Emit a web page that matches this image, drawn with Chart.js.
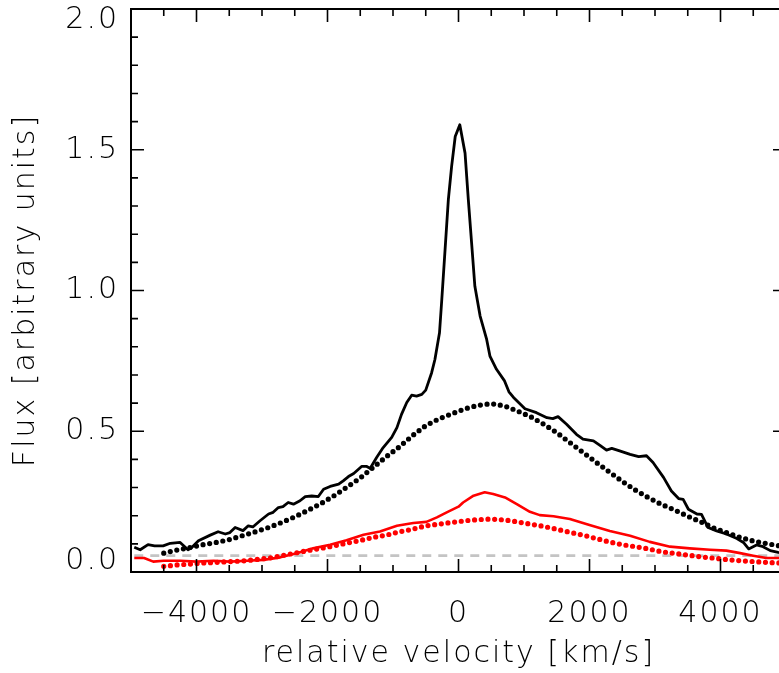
<!DOCTYPE html>
<html>
<head>
<meta charset="utf-8">
<script src="https://cdn.jsdelivr.net/npm/chart.js@4"></script>
<style>
  html, body { margin: 0; padding: 0; background: #fff; overflow: hidden; }
  #wrap { width: 800px; height: 673px; }
</style>
</head>
<body>
<div id="wrap"><canvas id="c" width="800" height="673"></canvas></div>
<script>
// ---------------- data ----------------
const obsTotalVel = [-4950,-4860,-4740,-4640,-4510,-4400,-4250,-4130,-4080,-3970,-3790,-3670,-3560,-3490,-3410,-3290,-3210,-3140,-3030,-2900,-2830,-2750,-2680,-2600,-2520,-2420,-2340,-2240,-2140,-2060,-1960,-1830,-1760,-1680,-1600,-1480,-1400,-1350,-1250,-1150,-1020,-940,-870,-790,-715,-640,-560,-500,-410,-360,-290,-255,-205,-155,-105,-50,20,100,150,200,250,330,430,480,580,700,770,840,1015,1190,1350,1440,1520,1650,1800,1900,2060,2160,2260,2340,2460,2620,2750,2870,2970,3130,3250,3360,3430,3510,3640,3710,3810,3940,4090,4250,4350,4430,4550,4650,4760,4880,5000];
const obsTotalFlux = [0.088,0.079,0.097,0.093,0.093,0.102,0.105,0.079,0.085,0.111,0.131,0.143,0.135,0.140,0.158,0.147,0.164,0.160,0.182,0.206,0.212,0.229,0.232,0.247,0.241,0.253,0.268,0.270,0.268,0.294,0.304,0.312,0.324,0.339,0.350,0.375,0.375,0.368,0.407,0.442,0.478,0.513,0.560,0.602,0.628,0.625,0.631,0.646,0.708,0.755,0.850,0.968,1.145,1.323,1.441,1.547,1.589,1.488,1.323,1.169,1.015,0.909,0.826,0.767,0.720,0.680,0.640,0.620,0.580,0.566,0.548,0.545,0.552,0.525,0.489,0.472,0.466,0.450,0.433,0.439,0.430,0.418,0.410,0.413,0.389,0.336,0.288,0.261,0.258,0.223,0.206,0.205,0.158,0.146,0.135,0.119,0.105,0.082,0.096,0.090,0.076,0.070,0.066];

const fitTotalVel = [-4500,-4300,-4100,-3900,-3700,-3500,-3300,-3100,-2900,-2700,-2500,-2300,-2100,-1900,-1700,-1500,-1300,-1100,-900,-700,-500,-300,-100,100,300,500,700,900,1100,1300,1500,1700,1900,2100,2300,2500,2700,2900,3100,3300,3500,3700,3900,4100,4300,4500,4700,4900,5000];
const fitTotalFlux = [0.067,0.078,0.087,0.097,0.105,0.115,0.129,0.143,0.158,0.176,0.196,0.219,0.243,0.271,0.302,0.334,0.372,0.410,0.445,0.485,0.520,0.544,0.562,0.580,0.592,0.598,0.590,0.572,0.552,0.525,0.495,0.460,0.425,0.390,0.356,0.322,0.291,0.264,0.240,0.220,0.198,0.178,0.156,0.139,0.123,0.110,0.101,0.093,0.090];

const obsPolVel = [-4950,-4800,-4660,-4500,-4250,-4000,-3740,-3490,-3230,-2980,-2720,-2470,-2220,-1960,-1710,-1450,-1200,-940,-690,-490,-330,-180,0,70,230,400,530,710,890,1090,1240,1450,1700,2000,2310,2620,2920,3230,3530,3840,4090,4300,4500,4700,4880,5000];
const obsPolFlux = [0.050,0.050,0.037,0.040,0.040,0.037,0.040,0.037,0.040,0.043,0.052,0.067,0.084,0.097,0.113,0.132,0.144,0.164,0.174,0.178,0.194,0.212,0.232,0.247,0.271,0.283,0.277,0.265,0.241,0.214,0.202,0.198,0.188,0.167,0.146,0.129,0.107,0.090,0.084,0.079,0.076,0.067,0.058,0.050,0.050,0.048];

const fitPolVel = [-4500,-4300,-4100,-3900,-3700,-3500,-3300,-3100,-2900,-2700,-2500,-2300,-2100,-1900,-1700,-1500,-1300,-1100,-900,-700,-500,-300,-100,100,300,500,700,900,1100,1300,1500,1700,1900,2100,2300,2500,2700,2900,3100,3300,3500,3700,3900,4100,4300,4500,4700,4900,5000];
const fitPolFlux = [0.020,0.025,0.028,0.032,0.034,0.037,0.039,0.044,0.049,0.058,0.067,0.076,0.084,0.093,0.103,0.112,0.123,0.131,0.143,0.152,0.164,0.170,0.176,0.182,0.186,0.188,0.185,0.178,0.170,0.162,0.152,0.141,0.131,0.119,0.107,0.097,0.090,0.082,0.072,0.066,0.060,0.054,0.049,0.044,0.040,0.037,0.034,0.032,0.031];

const baselineLevel = 0.058;
const baselineVel = [-4950, 5000];

// ---------------- ticks ----------------
const xMajorTicks = [-4000, -2000, 0, 2000, 4000];
const xMinorTicks = [-4500,-3500,-3000,-2500,-1500,-1000,-500,500,1000,1500,2500,3000,3500,4500];
const yMajorTicks = [0, 0.5, 1.0, 1.5, 2.0];
const yMinorTicks = [0.1,0.2,0.3,0.4,0.6,0.7,0.8,0.9,1.1,1.2,1.3,1.4,1.6,1.7,1.8,1.9];

const xTitle = 'relative velocity [km/s]';
const yTitle = 'Flux [arbitrary units]';

// ---------------- helpers ----------------
const pairs = (xs, ys) => xs.map((x, i) => ({ x: x, y: ys[i] }));

const FONT = "'DejaVu Sans', sans-serif";

const frameTicks = {
  id: 'frameTicks',
  beforeDraw(chart) {
    chart.ctx.letterSpacing = '2px';
  },
  afterDatasetsDraw(chart) {
    const { ctx, chartArea: a, scales: { x, y } } = chart;
    ctx.save();
    ctx.strokeStyle = '#000';
    ctx.lineWidth = 2;
    ctx.lineCap = 'butt';
    ctx.strokeRect(a.left, a.top, a.right - a.left, a.bottom - a.top);
    ctx.lineWidth = 1.6;
    ctx.beginPath();
    const xt = (vals, len) => vals.forEach(v => {
      const px = x.getPixelForValue(v);
      ctx.moveTo(px, a.bottom); ctx.lineTo(px, a.bottom - len);
      ctx.moveTo(px, a.top); ctx.lineTo(px, a.top + len);
    });
    const yt = (vals, len) => vals.forEach(v => {
      const py = y.getPixelForValue(v);
      ctx.moveTo(a.left, py); ctx.lineTo(a.left + len, py);
      ctx.moveTo(a.right, py); ctx.lineTo(a.right - len, py);
    });
    xt(xMajorTicks, 13); xt(xMinorTicks, 7);
    yt(yMajorTicks, 13); yt(yMinorTicks, 7);
    ctx.stroke();
    ctx.restore();
  }
};

const dotted = (color) => ({
  borderColor: color,
  borderWidth: 5.2,
  borderDash: [0, 6.7],
  borderCapStyle: 'round',
  pointRadius: 0,
  fill: false,
  tension: 0
});

new Chart(document.getElementById('c'), {
  type: 'line',
  data: {
    datasets: [
      Object.assign({ label: 'fit total', data: pairs(fitTotalVel, fitTotalFlux) }, dotted('#000000')),
      { label: 'observed total', data: pairs(obsTotalVel, obsTotalFlux), borderColor: '#000000', borderWidth: 2.8, pointRadius: 0, tension: 0, borderJoinStyle: 'round' },
      Object.assign({ label: 'fit polarized', data: pairs(fitPolVel, fitPolFlux) }, dotted('#ff0000')),
      { label: 'observed polarized', data: pairs(obsPolVel, obsPolFlux), borderColor: '#ff0000', borderWidth: 2.6, pointRadius: 0, tension: 0, borderJoinStyle: 'round' },
      { label: 'baseline', data: baselineVel.map(v => ({ x: v, y: baselineLevel })), borderColor: '#c4c4c4', borderWidth: 2.6, borderDash: [9, 7], pointRadius: 0 }
    ]
  },
  options: {
    responsive: false,
    animation: false,
    events: [],
    layout: { padding: { left: 0, right: 14, top: 9, bottom: 0 } },
    plugins: { legend: { display: false }, tooltip: { enabled: false } },
    scales: {
      x: {
        type: 'linear',
        min: -5000, max: 5000,
        grid: { display: false, drawTicks: false },
        border: { display: false },
        afterBuildTicks: s => { s.ticks = xMajorTicks.map(v => ({ value: v })); },
        afterFit: s => { s.height = 101; s.paddingLeft = 0; s.paddingRight = 0; s.paddingTop = 0; s.paddingBottom = 0; },
        ticks: {
          color: '#000', padding: 24, maxRotation: 0, autoSkip: false,
          font: { family: FONT, size: 30, weight: 200 },
          callback: v => String(v).replace('-', '\u2212')
        },
        title: {
          display: true, text: xTitle, color: '#000',
          font: { family: FONT, size: 30, weight: 200 },
          padding: { top: 0, bottom: 1 }
        }
      },
      y: {
        type: 'linear',
        min: 0, max: 2,
        grid: { display: false, drawTicks: false },
        border: { display: false },
        afterBuildTicks: s => { s.ticks = yMajorTicks.map(v => ({ value: v })); },
        afterFit: s => { s.width = 131; s.paddingLeft = 0; s.paddingRight = 0; s.paddingTop = 0; s.paddingBottom = 0; },
        ticks: {
          color: '#000', padding: 12, autoSkip: false,
          font: { family: FONT, size: 30, weight: 200, lineHeight: '22px' },
          callback: v => v === 2 ? ['', '2.0'] : (v === 0 ? ['0.0', ''] : v.toFixed(1))
        },
        title: {
          display: true, text: yTitle, color: '#000',
          font: { family: FONT, size: 30, weight: 200 },
          padding: { top: 8, bottom: 0 }
        }
      }
    }
  },
  plugins: [frameTicks]
});
</script>
</body>
</html>
